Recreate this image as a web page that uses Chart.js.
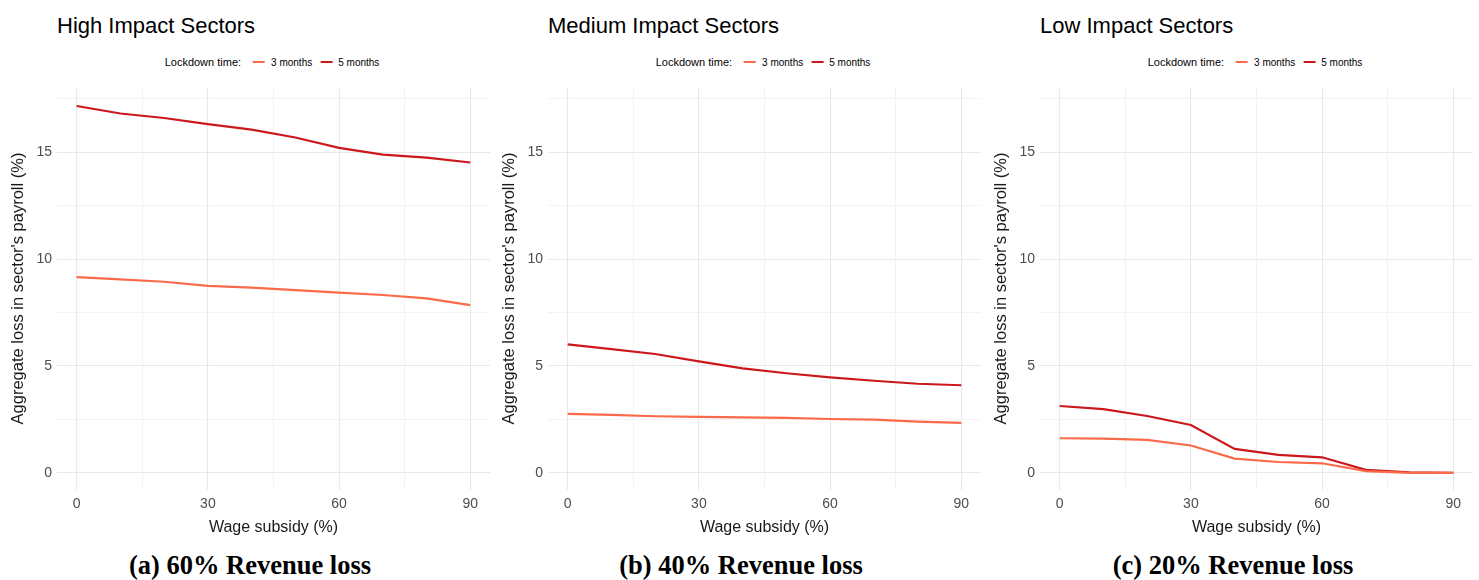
<!doctype html>
<html lang="en">
<head>
  <meta charset="utf-8">
  <title>Aggregate loss by wage subsidy</title>
  <script src="https://cdn.jsdelivr.net/npm/chart.js"></script>
  <style>
    body { margin: 0; background: #fff; font-family: "Liberation Sans", Arial, sans-serif; }
    #wrap { position: relative; width: 1479px; height: 580px; overflow: hidden; }
    .panel-title { position: absolute; top: 13px; font-size: 22px; color: #000; white-space: nowrap; line-height: 26px; }
    .legend { position: absolute; top: 53px; height: 18px; display: flex; align-items: center; transform: translateX(-50%); white-space: nowrap; color: #000; }
    .legend .lt { font-size: 11px; margin-right: 12px; }
    .legend .sw { width: 12px; height: 2.5px; margin-right: 6px; }
    .legend .it { font-size: 10px; margin-right: 8px; }
    .caption { position: absolute; top: 549px; transform: translateX(-50%); font-family: "Liberation Serif", "Times New Roman", serif; font-weight: bold; font-size: 26.5px; white-space: nowrap; line-height: 32px; }
    canvas { position: absolute; top: 80px; }
  </style>
</head>
<body>
<div id="wrap"></div>

<script>
  // values, x = wage subsidy (%)
  const subsidy = [0, 10, 20, 30, 40, 50, 60, 70, 80, 90];

  const highThree = [9.16, 9.05, 8.94, 8.75, 8.67, 8.55, 8.43, 8.32, 8.16, 7.85];
  const highFive  = [17.16, 16.81, 16.60, 16.31, 16.06, 15.69, 15.20, 14.89, 14.75, 14.52];
  const medThree  = [2.76, 2.71, 2.65, 2.62, 2.60, 2.57, 2.52, 2.49, 2.40, 2.34];
  const medFive   = [6.01, 5.79, 5.56, 5.22, 4.89, 4.66, 4.47, 4.31, 4.17, 4.10];
  const lowThree  = [1.62, 1.60, 1.54, 1.28, 0.67, 0.51, 0.45, 0.08, 0, 0];
  const lowFive   = [3.13, 2.98, 2.66, 2.24, 1.12, 0.84, 0.73, 0.14, 0.03, 0];

  const seriesNames = ['3 months', '5 months'];
  const panelTitles = ['High Impact Sectors', 'Medium Impact Sectors', 'Low Impact Sectors'];
  const captions = ['(a) 60% Revenue loss', '(b) 40% Revenue loss', '(c) 20% Revenue loss'];

  const xTicks = [0, 15, 30, 45, 60, 75, 90];
  const yTicks = [0, 2.5, 5, 7.5, 10, 12.5, 15, 17.5];

  const colors = ['#FB6A4A', '#CB181D'];
  const panelData = [[highThree, highFive], [medThree, medFive], [lowThree, lowFive]];
  const panelLeft = [0, 491, 983];

  const wrap = document.getElementById('wrap');
  const font = '"Liberation Sans", Arial, sans-serif';

  panelData.forEach((pair, i) => {
    const left = panelLeft[i];

    const t = document.createElement('div');
    t.className = 'panel-title';
    t.style.left = (left + 57) + 'px';
    t.textContent = panelTitles[i];
    wrap.appendChild(t);

    const lg = document.createElement('div');
    lg.className = 'legend';
    lg.style.left = (left + 276) + 'px';
    let html = '<span class="lt">Lockdown time:</span>';
    seriesNames.forEach((n, k) => {
      html += '<span class="sw" style="background:' + colors[k] + '"></span><span class="it">' + n + '</span>';
    });
    lg.innerHTML = html;
    wrap.appendChild(lg);

    const cap = document.createElement('div');
    cap.className = 'caption';
    cap.style.left = (left + 250) + 'px';
    cap.textContent = captions[i];
    wrap.appendChild(cap);

    const cv = document.createElement('canvas');
    cv.style.left = left + 'px';
    cv.width = 493;
    cv.height = 457;
    cv.style.width = '493px';
    cv.style.height = '457px';
    wrap.appendChild(cv);

    new Chart(cv.getContext('2d'), {
      type: 'line',
      data: {
        datasets: pair.map((vals, k) => ({
          label: seriesNames[k],
          data: subsidy.map((x, j) => ({ x: x, y: vals[j] })),
          borderColor: colors[k],
          borderWidth: 2.2,
          pointRadius: 0,
          tension: 0,
          fill: false
        }))
      },
      options: {
        responsive: false,
        animation: false,
        layout: { padding: { top: 7, right: 3, bottom: 0, left: 0 } },
        plugins: { legend: { display: false }, tooltip: { enabled: false } },
        scales: {
          x: {
            type: 'linear',
            min: -4.5,
            max: 94.5,
            afterBuildTicks: s => { s.ticks = xTicks.map(v => ({ value: v })); },
            afterFit: s => { s.height = 47; s.paddingLeft = 0; s.paddingRight = 0; },
            border: { display: false },
            grid: {
              drawTicks: false,
              color: c => (c.tick && c.tick.value % 30 === 0) ? '#e8e8e8' : '#f0f0f0',
              lineWidth: c => (c.tick && c.tick.value % 30 === 0) ? 1.1 : 0.8
            },
            ticks: {
              autoSkip: false,
              maxRotation: 0,
              padding: 6,
              color: '#4d4d4d',
              font: { family: font, size: 14 },
              callback: v => (v % 30 === 0 ? v : '')
            },
            title: {
              display: true,
              text: 'Wage subsidy (%)',
              color: '#1a1a1a',
              font: { family: font, size: 16 },
              padding: { top: 0, bottom: 0 }
            }
          },
          y: {
            min: -0.8,
            max: 18.05,
            afterBuildTicks: s => { s.ticks = yTicks.map(v => ({ value: v })); },
            afterFit: s => { s.width = 57; s.paddingTop = 0; s.paddingBottom = 0; },
            border: { display: false },
            grid: {
              drawTicks: false,
              color: c => (c.tick && c.tick.value % 5 === 0) ? '#e8e8e8' : '#f0f0f0',
              lineWidth: c => (c.tick && c.tick.value % 5 === 0) ? 1.1 : 0.8
            },
            ticks: {
              autoSkip: false,
              padding: 5,
              color: '#4d4d4d',
              font: { family: font, size: 14 },
              callback: v => (v % 5 === 0 ? v : '')
            },
            title: {
              display: true,
              text: "Aggregate loss in sector's payroll (%)",
              color: '#1a1a1a',
              font: { family: font, size: 16.5 },
              padding: { top: 9, bottom: 0 }
            }
          }
        }
      }
    });
  });
</script>
</body>
</html>
